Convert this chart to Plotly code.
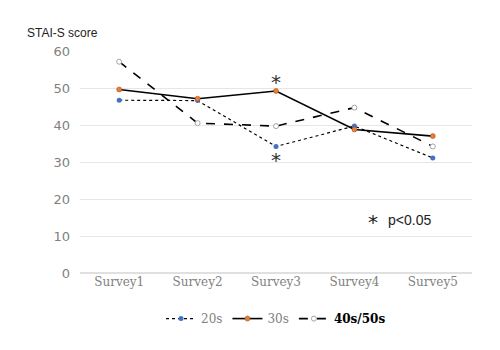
import plotly.graph_objects as go

categories = ["Survey1", "Survey2", "Survey3", "Survey4", "Survey5"]
s20 = [46.7, 46.6, 34.2, 39.7, 31.1]
s30 = [49.6, 47.1, 49.2, 38.8, 37.0]
s4050 = [57.1, 40.5, 39.7, 44.7, 34.2]
y_ticks = [0, 10, 20, 30, 40, 50, 60]

fig = go.Figure()
fig.add_trace(go.Scatter(x=categories, y=s20, name="20s", mode="lines+markers",
                         line=dict(color="black", width=1.2, dash="dot"),
                         marker=dict(size=5, color="#4472C4")))
fig.add_trace(go.Scatter(x=categories, y=s30, name="30s", mode="lines+markers",
                         line=dict(color="black", width=1.6),
                         marker=dict(size=5, color="#ED7D31", line=dict(color="#8a4a1a", width=0.5))))
fig.add_trace(go.Scatter(x=categories, y=s4050, name="<b><span style='color:black'>40s/50s</span></b>",
                         mode="lines+markers",
                         line=dict(color="black", width=1.6, dash="dash"),
                         marker=dict(size=5, color="white", line=dict(color="#A5A5A5", width=1))))

fig.add_annotation(x="Survey3", y=s30[2], text="*", showarrow=False, yshift=9,
                   font=dict(size=20, color="#333333", family="DejaVu Sans"))
fig.add_annotation(x="Survey3", y=s20[2], text="*", showarrow=False, yshift=-14,
                   font=dict(size=20, color="#333333", family="DejaVu Sans"))
fig.add_annotation(x=0.765, y=15.0, xref="paper", yref="y", text="*", showarrow=False,
                   font=dict(size=20, color="#222222", family="DejaVu Sans"), yshift=-4)
fig.add_annotation(x=0.78, y=14.2, xref="paper", yref="y", text="p<0.05", showarrow=False,
                   xanchor="left", font=dict(size=14, color="#222222", family="Liberation Sans"))
fig.add_annotation(x=-0.14, y=1.04, xref="paper", yref="paper", text="STAI-S score",
                   showarrow=False, xanchor="left", yanchor="bottom",
                   font=dict(size=12, color="#222222", family="Liberation Sans"))

fig.update_layout(
    width=500, height=350,
    margin=dict(l=80, r=28, t=51, b=77),
    plot_bgcolor="white", paper_bgcolor="white",
    showlegend=True,
    legend=dict(orientation="h", x=0.5, xanchor="center", y=-0.14, yanchor="top",
                font=dict(size=12, color="#7f7f7f", family="DejaVu Serif"),
                itemwidth=30, tracegroupgap=0),
    font=dict(family="DejaVu Serif"),
)
fig.update_xaxes(showgrid=False, showline=False, ticks="", range=[-0.5, 4.5],
                 tickfont=dict(size=12, color="#7f7f7f", family="DejaVu Serif"))
fig.update_yaxes(range=[0, 60], tickvals=y_ticks, showgrid=True, gridcolor="#e6e6e6",
                 gridwidth=1, zeroline=True, zerolinecolor="#e0e0e0", showline=False, ticks="",
                 ticklabelstandoff=9,
                 tickfont=dict(size=13, color="#7f7f7f", family="DejaVu Sans"))

fig.write_html("out.html")
